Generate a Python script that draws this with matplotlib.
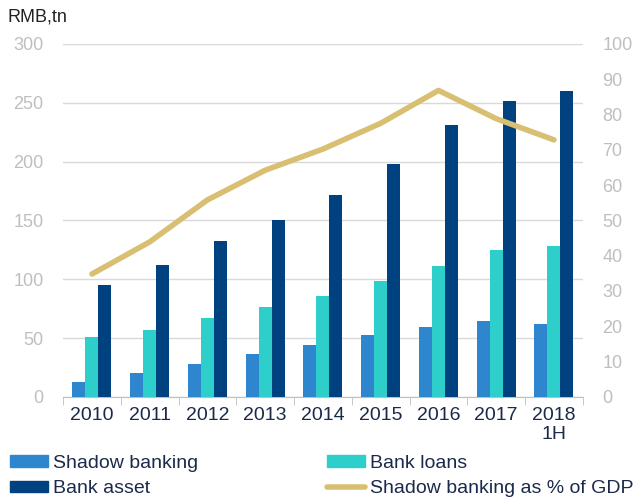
import numpy as np
import matplotlib.pyplot as plt
from matplotlib.patches import Patch
from matplotlib.lines import Line2D

plt.rcParams['font.family'] = ['Liberation Sans', 'DejaVu Sans']

years = ['2010', '2011', '2012', '2013', '2014', '2015', '2016', '2017', '2018\n1H']
shadow_banking = [13, 20, 28, 36.5, 44, 53, 59, 64.5, 62]
bank_loans = [50.5, 57, 67, 76, 86, 98.5, 111, 125, 128.5]
bank_asset = [95, 112.5, 132.5, 150, 171.5, 198, 231, 251, 260]
shadow_pct_gdp = [34.8, 43.9, 55.8, 64.2, 70.2, 77.5, 86.8, 78.8, 72.8]

c_shadow = '#2E86CE'
c_loans = '#2ECECB'
c_asset = '#00427F'
c_line = '#D9BF72'
c_grey = '#BFBFBF'
c_text = '#1B2A4A'

fig = plt.figure(figsize=(6.37, 4.98), dpi=100)
ax = fig.add_axes([0.099, 0.203, 0.816, 0.709])

x = np.arange(len(years))
w = 0.225
ax.bar(x - w, shadow_banking, w, color=c_shadow, zorder=3)
ax.bar(x, bank_loans, w, color=c_loans, zorder=3)
ax.bar(x + w, bank_asset, w, color=c_asset, zorder=3)

ax.set_xlim(-0.5, len(years) - 0.5)
ax.set_ylim(0, 300)
ax.set_yticks(range(0, 301, 50))
ax.grid(axis='y', color='#D9D9D9', linewidth=1, zorder=0)
ax.set_xticks(x)
ax.set_xticklabels(years, color=c_text, fontsize=14, linespacing=1.15)
ax.set_xticks(np.arange(-0.5, len(years), 1), minor=True)
ax.tick_params(axis='x', which='major', length=0, pad=7)
ax.tick_params(axis='x', which='minor', length=6, color='#BFBFBF')
ax.tick_params(axis='y', length=0, labelcolor=c_grey, labelsize=13, pad=14)
for s in ['top', 'right', 'left']:
    ax.spines[s].set_visible(False)
ax.spines['bottom'].set_color('#BFBFBF')

ax2 = ax.twinx()
ax2.plot(x, shadow_pct_gdp, color=c_line, linewidth=4, solid_capstyle='round', zorder=4)
ax2.set_ylim(0, 100)
ax2.set_yticks(range(0, 101, 10))
ax2.tick_params(axis='y', length=0, labelcolor=c_grey, labelsize=13, pad=14)
for s in ['top', 'right', 'left', 'bottom']:
    ax2.spines[s].set_visible(False)

fig.text(0.012, 0.965, 'RMB,tn', fontsize=13, color='#222222', va='center')

leg_kw = dict(loc='upper left', frameon=False, fontsize=14, handlelength=1.95,
              handleheight=0.55, handletextpad=0.25, labelspacing=0.45,
              labelcolor=c_text, borderaxespad=0, borderpad=0)
h_shadow = Patch(color=c_shadow)
h_loans = Patch(color=c_loans)
h_asset = Patch(color=c_asset)
h_line = Line2D([], [], color=c_line, linewidth=4, solid_capstyle='round')
fig.legend([h_shadow, h_asset], ['Shadow banking', 'Bank asset'],
           bbox_to_anchor=(0.016, 0.087), **leg_kw)
fig.legend([h_loans, h_line], ['Bank loans', 'Shadow banking as % of GDP'],
           bbox_to_anchor=(0.513, 0.087), **leg_kw)

fig.savefig('out.png', dpi=100)
